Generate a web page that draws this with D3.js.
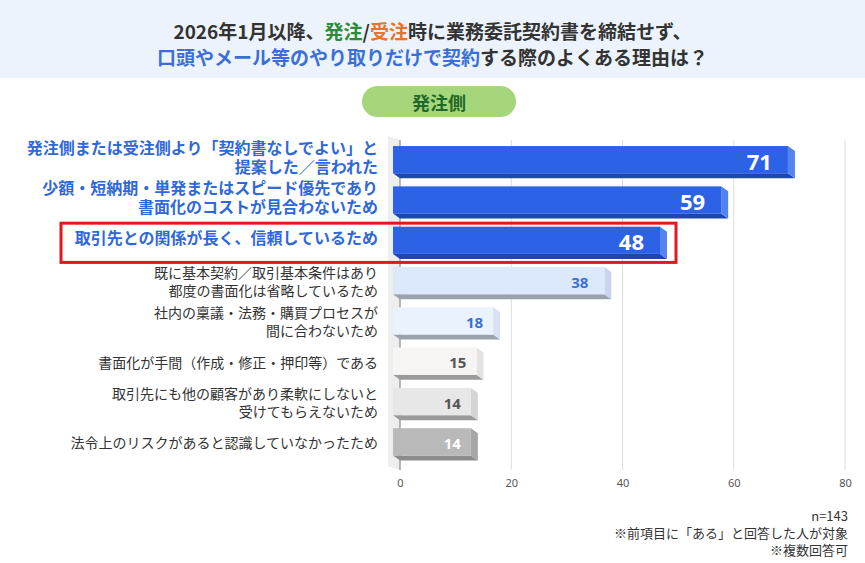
<!DOCTYPE html>
<html lang="ja">
<head>
<meta charset="utf-8">
<script src="https://cdn.jsdelivr.net/npm/d3@7"></script>
<style>
  html, body { margin: 0; padding: 0; background: #ffffff; }
  svg { display: block; font-family: "Noto Sans CJK JP", "Noto Sans", sans-serif; }
</style>
</head>
<body>
<svg id="chart" width="865" height="563"></svg>
<script>
// ---- data ----
const categories = [
  "発注側または受注側より「契約書なしでよい」と\n提案した／言われた",
  "少額・短納期・単発またはスピード優先であり\n書面化のコストが見合わないため",
  "取引先との関係が長く、信頼しているため",
  "既に基本契約／取引基本条件はあり\n都度の書面化は省略しているため",
  "社内の稟議・法務・購買プロセスが\n間に合わないため",
  "書面化が手間（作成・修正・押印等）である",
  "取引先にも他の顧客があり柔軟にしないと\n受けてもらえないため",
  "法令上のリスクがあると認識していなかったため"
];
const values = [71, 59, 48, 38, 18, 15, 14, 14];
const highlighted = [true, true, true, false, false, false, false, false];
const xTicks = [0, 20, 40, 60, 80];
const titleLine1 = [
  ["2026年1月以降、", "#333333"], ["発注", "#2e8b3a"], ["/", "#333333"],
  ["受注", "#e8732a"], ["時に業務委託契約書を締結せず、", "#333333"]
];
const titleLine2 = [
  ["口頭やメール等のやり取りだけで契約", "#3a6fd8"], ["する際のよくある理由は？", "#333333"]
];
const sideLabel = "発注側";
const notes = ["n=143", "※前項目に「ある」と回答した人が対象", "※複数回答可"];

// bar styles (face, side, bottom, label colour)
const barStyles = [
  { face: "#2c62e6", side: "#5283f0", bottom: "#1d45b3", text: "#ffffff" },
  { face: "#2c62e6", side: "#5283f0", bottom: "#1d45b3", text: "#ffffff" },
  { face: "#2c62e6", side: "#5283f0", bottom: "#1d45b3", text: "#ffffff" },
  { face: "#dce8fc", side: "#c7d5ee", bottom: "#9aa2ad", text: "#3a6fd6" },
  { face: "#eaf2fe", side: "#d6e1f2", bottom: "#9aa2ad", text: "#3a6fd6" },
  { face: "#f6f5f3", side: "#e4e3e1", bottom: "#9b9b9b", text: "#555555" },
  { face: "#e7e7e7", side: "#d4d4d4", bottom: "#999999", text: "#555555" },
  { face: "#b9b9b9", side: "#a6a6a6", bottom: "#8c8c8c", text: "#ffffff" }
];

const svg = d3.select("#chart");
const W = 865;

// ---- title band ----
svg.append("rect").attr("x", 0).attr("y", 0).attr("width", W).attr("height", 78).attr("fill", "#edf3fc");
function titleLine(parts, y) {
  const t = svg.append("text").attr("x", W / 2).attr("y", y)
    .attr("text-anchor", "middle").attr("dominant-baseline", "central")
    .attr("font-size", 19).attr("font-weight", 700);
  parts.forEach(p => t.append("tspan").attr("fill", p[1]).text(p[0]));
}
titleLine(titleLine1, 30);
titleLine(titleLine2, 56);

// ---- pill ----
svg.append("rect").attr("x", 362).attr("y", 86).attr("width", 154).attr("height", 31)
  .attr("rx", 15.5).attr("fill", "#a6d67b");
svg.append("text").attr("x", 439).attr("y", 101.5).attr("text-anchor", "middle")
  .attr("dominant-baseline", "central").attr("font-size", 18).attr("font-weight", 700)
  .attr("fill", "#1f6a28").text(sideLabel);

// ---- scales ----
const x = d3.scaleLinear().domain([0, 80]).range([400, 845]);
const y = d3.scaleBand().domain(categories).range([138, 468.5]).padding(0.2);
const bw = y.bandwidth();
const dx = 7, dy = 5;

// left wall
svg.append("polygon")
  .attr("points", [[x(0) - 12, 136], [x(0), 140], [x(0), 470], [x(0) - 12, 466]].join(" "))
  .attr("fill", "#eeeeee");

// gridlines
svg.append("g").selectAll("line").data(xTicks.slice(1)).join("line")
  .attr("x1", d => x(d)).attr("x2", d => x(d)).attr("y1", 140).attr("y2", 470)
  .attr("stroke", "#dcdcdc").attr("stroke-width", 1);
// axis line
svg.append("line").attr("x1", x(0)).attr("x2", x(0)).attr("y1", 140).attr("y2", 470)
  .attr("stroke", "#8a8a8a").attr("stroke-width", 1.2);

// tick labels
const axis = d3.axisBottom(x).tickValues(xTicks).tickSize(0).tickPadding(0);
const ag = svg.append("g").attr("transform", "translate(0,479)").call(axis);
ag.select(".domain").remove();
ag.selectAll("text").attr("font-size", 11).attr("fill", "#555555")
  .attr("font-family", "'Noto Sans', 'Open Sans', sans-serif");

// ---- bars ----
const bars = svg.append("g").selectAll("g").data(categories).join("g");
bars.each(function (c, i) {
  const g = d3.select(this);
  const st = barStyles[i];
  const top = y(c), bot = top + bw;
  const x0 = x(0), x1 = x(values[i]);
  g.append("polygon").attr("points",
    [[x0 - dx, bot - dy], [x1 - dx, bot - dy], [x1, bot], [x0, bot]].join(" "))
    .attr("fill", st.bottom);
  g.append("polygon").attr("points",
    [[x1 - dx, top], [x1, top + dy], [x1, bot], [x1 - dx, bot - dy]].join(" "))
    .attr("fill", st.side);
  g.append("rect").attr("x", x0 - dx).attr("y", top).attr("width", x1 - x0).attr("height", bw - dy)
    .attr("fill", st.face);
  const big = highlighted[i];
  g.append("text").attr("x", x1 - (big ? 23 : (values[i] > 30 ? 23 : 17)))
    .attr("y", top + (bw - dy) / 2 + 1).attr("text-anchor", "end").attr("dominant-baseline", "central")
    .attr("font-family", "'Open Sans', 'Noto Sans', sans-serif")
    .attr("font-size", big ? 22 : 15).attr("font-weight", 700).attr("fill", st.text)
    .text(values[i]);
});

// ---- category labels ----
const labels = svg.append("g").selectAll("text").data(categories).join("text")
  .attr("text-anchor", "end")
  .attr("font-size", (d, i) => highlighted[i] ? 16 : 14)
  .attr("font-weight", (d, i) => highlighted[i] ? 700 : 400)
  .attr("fill", (d, i) => highlighted[i] ? "#2f68d8" : "#333333");
labels.each(function (d, i) {
  const lines = d.split("\n");
  const lh = highlighted[i] ? 19 : 18;
  const cy = y(d) + (bw - dy) / 2 + (highlighted[i] ? -3 : 0.5);
  const t = d3.select(this);
  lines.forEach((ln, k) => {
    t.append("tspan").attr("x", 378)
      .attr("y", cy + (k - (lines.length - 1) / 2) * lh)
      .attr("dominant-baseline", "central").text(ln);
  });
});

// ---- highlight box ----
const hc = categories[2];
svg.append("rect").attr("x", 61).attr("y", y(hc) - 3.5)
  .attr("width", x(values[2]) + 9 - 61).attr("height", bw + 7)
  .attr("fill", "none").attr("stroke", "#e0191e").attr("stroke-width", 3);

// ---- notes ----
svg.append("g").selectAll("text").data(notes).join("text")
  .attr("x", 848).attr("y", (d, i) => 515 + i * 17)
  .attr("text-anchor", "end").attr("dominant-baseline", "central")
  .attr("font-size", 13).attr("fill", "#333333").text(d => d);
</script>
</body>
</html>
